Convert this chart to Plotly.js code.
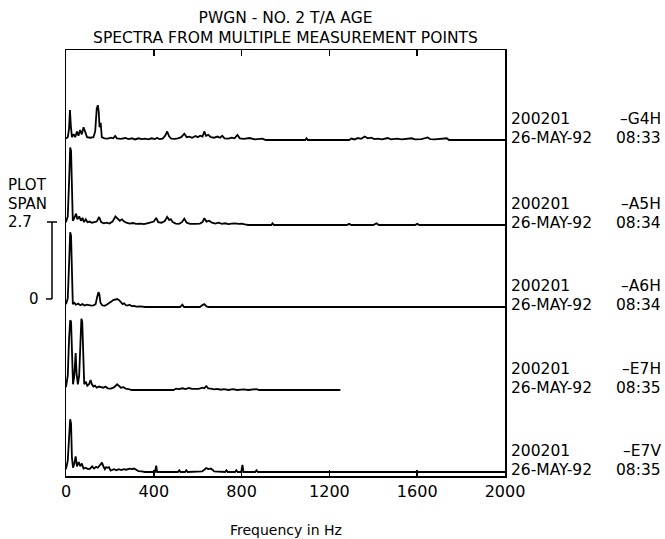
<!DOCTYPE html>
<html>
<head>
<meta charset="utf-8">
<script src="https://cdn.plot.ly/plotly-3.0.1.min.js"></script>
<style>
html,body{margin:0;padding:0;background:#fff;}
#chart{width:665px;height:539px;}
</style>
</head>
<body>
<div id="chart"></div>
<script>
// ---------------- DATA ----------------
const titleLine1 = "PWGN - NO. 2 T/A AGE";
const titleLine2 = "SPECTRA FROM MULTIPLE MEASUREMENT POINTS";
const xAxisTitle = "Frequency in Hz";
const freqTickVals = [0, 400, 800, 1200, 1600, 2000];
const freqTickText = ["0", "400", "800", "1200", "1600", "2000"];
const plotSpanValue = 2.7;

const pointNames = ["–G4H", "–A5H", "–A6H", "–E7H", "–E7V"];
const stationIds = ["200201", "200201", "200201", "200201", "200201"];
const measDates = ["26-MAY-92", "26-MAY-92", "26-MAY-92", "26-MAY-92", "26-MAY-92"];
const measTimes = ["08:33", "08:34", "08:34", "08:35", "08:35"];

// Spectrum G4H
const freqG4H = [0,8,14,18,22,27,35,42,50,57,64,72,80,88,96,110,125,133,140,145,149,153,158,163,175,190,205,215,224,232,250,270,285,300,315,330,345,360,375,390,405,415,425,440,452,461,470,480,495,510,525,539,550,562,575,590,600,612,622,630,638,648,660,675,690,702,712,722,740,755,768,781,792,810,836,860,895,910,1090,1096,1102,1290,1300,1315,1330,1345,1361,1375,1390,1405,1420,1440,1466,1480,1507,1530,1560,1575,1590,1620,1648,1660,1680,1735,1745,2000];
const ampG4H  = [0.05,0.1,0.4,1.05,0.5,0.1,0.2,0.1,0.3,0.15,0.35,0.2,0.45,0.25,0.1,0.08,0.1,0.3,1.1,1.22,1.0,0.45,0.6,0.1,0.06,0.05,0.08,0.06,0.14,0.06,0.04,0.07,0.03,0.06,0.02,0.06,0.03,0.05,0.02,0.06,0.03,0.08,0.03,0.05,0.15,0.3,0.12,0.05,0.04,0.06,0.1,0.22,0.1,0.12,0.08,0.14,0.1,0.15,0.12,0.3,0.15,0.18,0.1,0.08,0.12,0.08,0.15,0.06,0.05,0.08,0.06,0.18,0.06,0.04,0.07,0.02,0.05,0,0,0.06,0,0,0.05,0.02,0.07,0.04,0.12,0.06,0.08,0.03,0.05,0.02,0.07,0.02,0.05,0.02,0.03,0.06,0.02,0.03,0.09,0.03,0.02,0.06,0,0];

// Spectrum A5H
const freqA5H = [0,8,14,19,23,27,31,38,46,52,60,68,75,82,90,98,108,118,130,140,151,160,172,185,198,212,225,235,245,255,265,275,290,305,320,340,355,370,385,400,411,420,435,450,461,470,478,486,500,515,528,539,550,565,590,610,622,630,640,652,665,680,695,710,725,740,755,770,785,800,815,830,935,941,947,1280,1290,1300,1400,1415,1425,1590,1600,1610,2000];
const ampA5H  = [0.1,0.3,1.5,2.72,2.6,1.0,0.15,0.25,0.4,0.2,0.3,0.15,0.25,0.1,0.2,0.1,0.12,0.08,0.1,0.12,0.28,0.1,0.06,0.08,0.05,0.12,0.3,0.22,0.15,0.2,0.12,0.08,0.05,0.07,0.04,0.05,0.03,0.06,0.08,0.12,0.25,0.1,0.08,0.14,0.28,0.18,0.2,0.1,0.05,0.04,0.1,0.22,0.08,0.04,0.04,0.05,0.1,0.24,0.12,0.15,0.08,0.05,0.08,0.04,0.06,0.03,0.05,0.06,0.04,0.05,0.02,0,0,0.06,0,0,0.04,0,0,0.06,0,0,0.04,0,0];

// Spectrum A6H
const freqA6H = [0,8,14,19,23,27,31,38,45,55,65,75,85,95,105,115,125,135,142,148,152,157,165,175,185,195,205,215,225,233,242,250,258,265,272,280,290,300,310,320,340,360,380,400,520,530,538,610,620,630,640,650,2000];
const ampA6H  = [0.1,0.3,1.5,2.62,2.5,0.8,0.1,0.15,0.08,0.12,0.06,0.1,0.05,0.08,0.06,0.05,0.06,0.1,0.35,0.52,0.45,0.15,0.06,0.04,0.08,0.12,0.18,0.24,0.26,0.28,0.24,0.15,0.1,0.13,0.07,0.05,0.08,0.03,0.04,0.01,0.02,0,0.01,0,0,0.08,0,0,0.06,0.1,0.02,0,0];

// Spectrum E7H (measured to 1250 Hz)
const freqE7H = [0,8,14,19,23,27,32,38,44,48,54,60,66,70,74,78,83,90,97,105,112,118,125,132,140,150,160,170,180,190,205,220,233,242,250,262,272,285,300,490,502,515,530,545,560,575,590,605,621,630,639,648,660,675,690,705,720,740,760,780,810,830,868,880,1250];
const ampE7H  = [0.1,0.5,1.8,2.45,2.4,1.0,0.2,0.5,1.3,0.6,0.2,0.5,1.8,2.5,2.4,1.2,0.2,0.3,0.15,0.2,0.35,0.2,0.12,0.15,0.08,0.12,0.1,0.08,0.12,0.06,0.05,0.1,0.2,0.12,0.08,0.1,0.05,0.03,0,0,0.05,0.03,0.06,0.03,0.07,0.04,0.05,0.04,0.08,0.06,0.14,0.06,0.05,0.02,0.04,0.01,0.03,0,0.03,0,0.02,0,0.03,0,0];

// Spectrum E7V
const freqE7V = [0,8,14,19,23,27,32,38,44,50,58,65,72,80,90,100,110,119,128,137,145,151,158,164,170,177,183,190,196,203,212,219,230,240,252,262,274,279,290,300,310,320,330,345,360,405,411,415,510,516,522,542,548,554,620,630,639,648,660,667,675,725,731,737,770,776,782,798,804,808,862,868,874,2000];
const ampE7V  = [0.1,0.4,1.2,1.85,1.7,0.5,0.15,0.3,0.55,0.2,0.35,0.2,0.3,0.12,0.15,0.1,0.12,0.2,0.12,0.18,0.15,0.2,0.25,0.33,0.2,0.1,0.17,0.15,0.17,0.05,0.08,0.1,0.06,0.1,0.07,0.1,0.08,0.1,0.12,0.1,0.12,0.08,0.03,0.02,0,0,0.22,0,0,0.06,0,0,0.06,0,0.02,0.08,0.14,0.1,0.12,0.08,0.02,0,0.06,0,0,0.06,0,0,0.25,0,0,0.06,0,0];

const spectraFreq = [freqG4H, freqA5H, freqA6H, freqE7H, freqE7V];
const spectraAmp  = [ampG4H, ampA5H, ampA6H, ampE7H, ampE7V];

// ---------------- LAYOUT ----------------
const W = 665, H = 539;
const M = {l: 66, r: 160, t: 50, b: 63};
const plotTop = M.t, plotBottom = H - M.b, plotLeft = M.l, plotRight = W - M.r;
const plotH = plotBottom - plotTop, plotW = plotRight - plotLeft;
const pxPerUnit = 28.5;                     // amplitude scale, shared by all spectra
const baselinePx = [140, 225, 307, 390, 472]; // vertical placement of each spectrum
const axisIds = ['y5', 'y4', 'y3', 'y2', 'y'];
const FONT = "DejaVu Sans, Arial, sans-serif";

function px2paperX(px) { return (px - plotLeft) / plotW; }
function px2paperY(py) { return (plotBottom - py) / plotH; }

const traces = spectraFreq.map((f, i) => ({
  x: f, y: spectraAmp[i], type: 'scatter', mode: 'lines',
  yaxis: axisIds[i], line: {color: '#000', width: 1.8},
  hoverinfo: 'skip', showlegend: false
}));

const layout = {
  width: W, height: H, margin: M,
  paper_bgcolor: '#fff', plot_bgcolor: '#fff',
  showlegend: false,
  font: {family: FONT, color: '#000', size: 15},
  title: {
    text: titleLine1 + '<br>' + titleLine2,
    x: 0.5, xref: 'paper', xanchor: 'center',
    y: 0.958, yref: 'container', yanchor: 'top',
    font: {family: FONT, size: 15.5, color: '#000'}
  },
  xaxis: {
    range: [0, 2000], tickmode: 'array', tickvals: freqTickVals, ticktext: freqTickText,
    ticks: 'inside', ticklen: 6, tickwidth: 1.5, tickcolor: '#000',
    showline: true, linecolor: '#000', linewidth: 1.5, mirror: 'ticks',
    showgrid: false, zeroline: false,
    tickfont: {family: FONT, size: 16, color: '#000'},
    anchor: 'y'
  },
  annotations: [],
  shapes: []
};

axisIds.forEach((id, i) => {
  const lo = -(plotBottom - baselinePx[i]) / pxPerUnit;
  const hi = lo + plotH / pxPerUnit;
  const key = id === 'y' ? 'yaxis' : 'yaxis' + id.slice(1);
  const ax = {range: [lo, hi], domain: [0, 1], showgrid: false, zeroline: false,
              showticklabels: false, ticks: ''};
  if (id === 'y') {
    Object.assign(ax, {showline: true, mirror: true, linecolor: '#000', linewidth: 1.5});
  } else {
    Object.assign(ax, {overlaying: 'y', visible: false});
  }
  layout[key] = ax;

  // right-hand labels, tied to each spectrum's baseline
  const base = {xref: 'paper', x: 1, yref: id, y: 0, showarrow: false,
                font: {family: FONT, size: 15.5, color: '#000'}, yanchor: 'middle'};
  layout.annotations.push(Object.assign({}, base, {text: stationIds[i], xanchor: 'left', xshift: 4, yshift: 21}));
  layout.annotations.push(Object.assign({}, base, {text: pointNames[i], xanchor: 'right', xshift: 158, yshift: 21}));
  layout.annotations.push(Object.assign({}, base, {text: measDates[i], xanchor: 'left', xshift: 4, yshift: 2.5}));
  layout.annotations.push(Object.assign({}, base, {text: measTimes[i], xanchor: 'right', xshift: 158, yshift: 2.5}));
});

// x-axis title
layout.annotations.push({xref: 'paper', yref: 'paper', x: 0.5, y: px2paperY(530),
  text: xAxisTitle, showarrow: false, xanchor: 'center', yanchor: 'middle',
  font: {family: FONT, size: 14, color: '#000'}});

// PLOT SPAN scale bracket
const spanTop = 222, spanBottom = spanTop + plotSpanValue * pxPerUnit, spanX = 52;
[["PLOT", 185], ["SPAN", 203.5], [String(plotSpanValue), spanTop]].forEach(([t, py]) => {
  layout.annotations.push({xref: 'paper', yref: 'paper', x: px2paperX(6), y: px2paperY(py),
    text: t, showarrow: false, xanchor: 'left', yanchor: 'middle',
    font: {family: FONT, size: 15, color: '#000'}});
});
layout.annotations.push({xref: 'paper', yref: 'paper', x: px2paperX(34), y: px2paperY(spanBottom),
  text: "0", showarrow: false, xanchor: 'center', yanchor: 'middle',
  font: {family: FONT, size: 15, color: '#000'}});
const ln = {type: 'line', xref: 'paper', yref: 'paper', line: {color: '#000', width: 1.5}};
layout.shapes.push(Object.assign({}, ln, {x0: px2paperX(spanX), x1: px2paperX(spanX), y0: px2paperY(spanTop), y1: px2paperY(spanBottom)}));
layout.shapes.push(Object.assign({}, ln, {x0: px2paperX(spanX - 5), x1: px2paperX(spanX + 5), y0: px2paperY(spanTop), y1: px2paperY(spanTop)}));
layout.shapes.push(Object.assign({}, ln, {x0: px2paperX(spanX - 6), x1: px2paperX(spanX), y0: px2paperY(spanBottom), y1: px2paperY(spanBottom)}));

Plotly.newPlot('chart', traces, layout, {staticPlot: true, displayModeBar: false});
</script>
</body>
</html>
